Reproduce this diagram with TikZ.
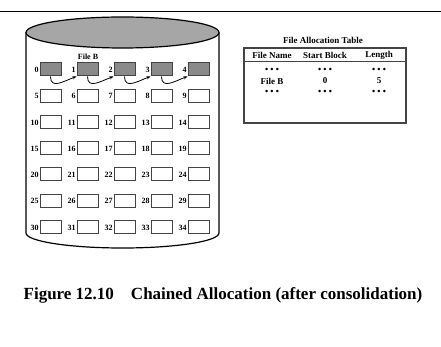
\documentclass[tikz,border=0pt]{standalone}
\usepackage{fontspec}
\setmainfont{Liberation Serif}
\usetikzlibrary{arrows.meta,calc}
\definecolor{diskgray}{HTML}{A6A6A6}
\definecolor{usedgray}{HTML}{8A8A8A}
\definecolor{edgegray}{HTML}{444444}
\tikzset{
  blk/.style={draw=edgegray, line width=1pt, minimum width=21pt, minimum height=13pt, inner sep=0pt, fill=white},
  usedblk/.style={blk, fill=usedgray},
  blknum/.style={font=\fontsize{8}{9}\selectfont\bfseries, inner sep=0pt, anchor=east},
  chain/.style={-{Stealth[length=4pt,width=3pt]}, line width=0.8pt, black},
  tabtext/.style={font=\fontsize{9}{10}\selectfont\bfseries, inner sep=0pt},
}
\begin{document}
\begin{tikzpicture}[x=1pt,y=-1pt]
\useasboundingbox (0,0) rectangle (441,347);
% rule across the top
\draw[line width=1pt] (0,12) -- (441,12);

% disk cylinder
\draw[line width=1.2pt, fill=white] (26,32.5) -- (26,233)
   arc[start angle=180, end angle=0, x radius=96.5, y radius=15] -- (219,32.5);
\draw[line width=1.2pt, fill=diskgray] (122.5,32.5) ellipse[x radius=96.5, y radius=15.5];

% blocks 0..34 with their numbers
\foreach \r in {0,...,6}{
  \foreach \c in {0,...,4}{
    \pgfmathtruncatemacro{\n}{5*\r+\c}
    \ifnum\r=0
      \node[usedblk] (b\n) at ({50.5+37*\c},{69.5+26.25*\r}) {};
    \else
      \node[blk] (b\n) at ({50.5+37*\c},{69.5+26.25*\r}) {};
    \fi
    \node[blknum] (n\n) at ($(b\n.west)+(-0.8,0.5)$) {\n};
  }
}
\node[font=\fontsize{8}{9}\selectfont\bfseries, inner sep=0pt] (fileb) at (88,57) {File B};

% chain pointers between the blocks of File B
\foreach \a/\b in {0/1,1/2,2/3,3/4}{
  \draw[chain] (b\a.south) to[out=-90,in=200,looseness=1.3] (b\b.south west);
}

% file allocation table
\node[font=\fontsize{9}{10}\selectfont\bfseries, inner sep=0pt] (fattitle) at (323,40) {File Allocation Table};
\draw[draw=edgegray, line width=1.3pt] (244,48) rectangle (406,123);
\coordinate (hl) at (244,62);
\coordinate (hr) at (406,62);
\draw[draw=edgegray, line width=1pt] (hl) -- (hr);
\node[tabtext] (h1) at (272,55) {File Name};
\node[tabtext] (h2) at (325,55) {Start Block};
\node[tabtext] (h3) at (379,55) {Length};
\node[tabtext] (r11) at (272,70) {• • •};
\node[tabtext] (r12) at (325,70) {• • •};
\node[tabtext] (r13) at (379,70) {• • •};
\node[tabtext] (r21) at (272,81) {File B};
\node[tabtext] (r22) at (325,81) {0};
\node[tabtext] (r23) at (379,81) {5};
\node[tabtext] (r31) at (272,92) {• • •};
\node[tabtext] (r32) at (325,92) {• • •};
\node[tabtext] (r33) at (379,92) {• • •};

% caption
\node[font=\fontsize{17}{19}\selectfont\bfseries, inner sep=0pt] (caption) at (223,295)
  {Figure 12.10\hspace{17pt}Chained Allocation (after consolidation)};
\end{tikzpicture}
\end{document}
